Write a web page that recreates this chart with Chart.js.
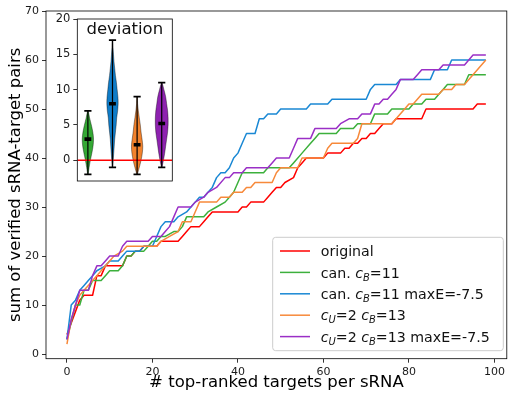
<!DOCTYPE html>
<html>
<head>
<meta charset="utf-8">
<script src="https://cdn.jsdelivr.net/npm/chart.js@4.4.1/dist/chart.umd.min.js"></script>
<style>
  html, body { margin: 0; padding: 0; background: #fff; }
  #wrap { position: relative; width: 508px; height: 394px; }
  #main { position: absolute; left: 0; top: 0; }
  #inset { position: absolute; left: 48px; top: 12px; }
</style>
</head>
<body>
<div id="wrap">
  <canvas id="main" width="508" height="394"></canvas>
  <canvas id="inset" width="126" height="172"></canvas>
</div>
<script>
// --- data: [targets per sRNA, verified pairs] at the corners of each curve
const origPts = [[0,4],[3,11],[4,12],[6,12],[7,16],[8,16],[9,18],[13,18],[14,20],[15,20],[16,21],[17,21],[18,22],[21,22],[22,23],[26,23],[27,24],[28,25],[29,26],[31,26],[32,27],[33,28],[34,29],[40,29],[41,30],[42,30],[43,31],[46,31],[47,32],[48,33],[49,34],[50,34],[51,35],[53,36],[54,38],[55,39],[56,40],[60,40],[61,41],[64,41],[65,42],[66,42],[67,43],[68,43],[69,44],[70,44],[71,45],[72,45],[73,46],[74,47],[76,47],[77,48],[83,48],[84,50],[95,50],[96,51],[98,51]];
const canPts = [[0,3],[2,10],[3,10],[4,13],[5,13],[6,15],[8,15],[9,16],[10,17],[12,17],[13,18],[14,20],[15,20],[16,21],[18,21],[19,22],[20,23],[21,23],[22,24],[23,24],[25,25],[26,25],[27,26],[28,28],[32,28],[33,29],[35,30],[37,31],[38,32],[39,33],[40,35],[41,37],[46,37],[47,38],[52,38],[53,39],[55,41],[57,43],[58,44],[59,45],[63,45],[64,46],[67,46],[68,47],[71,47],[72,49],[75,49],[76,50],[80,50],[81,51],[83,51],[84,52],[86,52],[87,53],[88,54],[89,55],[93,55],[94,57],[98,57]];
const canMaxEPts = [[0,3],[1,10],[2,11],[3,13],[4,14],[5,15],[6,16],[7,17],[9,18],[10,19],[12,19],[13,20],[14,21],[17,21],[18,22],[20,22],[21,24],[22,26],[23,27],[25,27],[26,28],[28,29],[29,30],[30,31],[31,32],[32,32],[33,33],[34,34],[35,36],[36,37],[37,37],[38,38],[39,40],[40,41],[41,43],[42,45],[44,45],[45,48],[46,48],[47,49],[49,49],[50,50],[56,50],[57,51],[61,51],[62,52],[70,52],[71,54],[72,55],[77,55],[78,56],[85,56],[86,58],[89,58],[90,60],[98,60]];
const cuPts = [[0,2],[1,7],[2,10],[3,12],[4,13],[5,14],[6,15],[7,16],[8,17],[9,18],[10,19],[11,20],[13,21],[14,22],[21,22],[22,23],[24,24],[26,25],[27,27],[29,27],[30,29],[31,31],[35,31],[36,32],[38,32],[39,33],[41,33],[42,34],[43,34],[44,35],[48,35],[49,37],[50,38],[54,38],[55,40],[60,40],[61,42],[62,43],[67,43],[68,44],[69,47],[76,47],[77,48],[79,50],[80,51],[81,51],[83,53],[87,53],[88,54],[90,54],[91,55],[93,55],[98,60]];
const cuMaxEPts = [[0,3],[1,7],[2,10],[3,13],[5,13],[6,16],[7,18],[8,18],[9,19],[10,20],[12,20],[13,22],[14,23],[19,23],[20,24],[22,24],[23,25],[24,26],[25,28],[26,30],[29,30],[30,31],[32,32],[33,33],[35,34],[37,36],[38,36],[39,37],[41,37],[42,38],[47,38],[48,39],[49,40],[52,40],[53,42],[54,44],[57,44],[58,46],[63,46],[64,47],[66,48],[68,48],[69,49],[71,49],[72,51],[73,51],[74,52],[75,52],[76,53],[77,54],[78,56],[81,56],[82,57],[83,58],[87,58],[88,59],[93,59],[94,60],[95,61],[98,61]];

const seriesLabels = ['original', 'can. c_B=11', 'can. c_B=11 maxE=-7.5', 'c_U=2 c_B=13', 'c_U=2 c_B=13 maxE=-7.5'];
const seriesColors = ['#ff0000', '#3cb03c', '#1a88d4', '#f7893a', '#9a2fc6'];
const seriesPoints = [origPts, canPts, canMaxEPts, cuPts, cuMaxEPts];
const xTicks = [0, 20, 40, 60, 80, 100];
const yTicks = [0, 10, 20, 30, 40, 50, 60, 70];

// inset: deviation violins (order: can, can maxE, cU, cU maxE)
const violinColors = ['#34a834', '#0f7cc8', '#f2822c', '#8e22b0'];
const violinMin = [-2, -1, -2, -1];
const violinMax = [7, 17, 9, 11];
const violinMark = [3, 8, 2.2, 5.2];
// [deviation, half width] profiles
const violinShapes = [
  [[-2,0.01],[-1,0.05],[0,0.1],[1,0.16],[2,0.21],[3,0.23],[4,0.2],[5,0.14],[6,0.07],[7,0.01]],
  [[-1,0.01],[0,0.03],[1,0.05],[2,0.07],[3,0.09],[4,0.12],[5,0.15],[6,0.17],[7,0.21],[8,0.23],[9,0.22],[10,0.19],[11,0.16],[12,0.12],[13,0.09],[14,0.06],[15,0.04],[16,0.02],[17,0.01]],
  [[-2,0.01],[-1,0.09],[0,0.16],[1,0.21],[2,0.23],[3,0.2],[4,0.16],[5,0.13],[6,0.09],[7,0.05],[8,0.02],[9,0.01]],
  [[-1,0.01],[0,0.07],[1,0.12],[2,0.16],[3,0.2],[4,0.24],[5,0.26],[6,0.26],[7,0.24],[8,0.2],[9,0.16],[10,0.09],[11,0.01]]
];
const insetTicks = [0, 5, 10, 15, 20];

Chart.defaults.font.family = '"DejaVu Sans", sans-serif';
Chart.defaults.color = '#1a1a1a';

// text with c_X written as italic c and subscript X
function drawRich(ctx, text, x, y, size) {
  text.split(/(c_[A-Z])/).forEach(p => {
    if (!p) return;
    if (/^c_[A-Z]$/.test(p)) {
      ctx.font = `italic ${size}px "DejaVu Sans"`;
      ctx.fillText('c', x, y);
      x += ctx.measureText('c').width;
      ctx.font = `italic ${size * 0.7}px "DejaVu Sans"`;
      ctx.fillText(p[2], x, y + size * 0.22);
      x += ctx.measureText(p[2]).width;
    } else {
      ctx.font = `${size}px "DejaVu Sans"`;
      ctx.fillText(p, x, y);
      x += ctx.measureText(p).width;
    }
  });
}

const mainFurniture = {
  id: 'mainFurniture',
  afterDraw(chart) {
    const { ctx, chartArea: ca } = chart;
    ctx.save();
    ctx.strokeStyle = '#000';
    ctx.lineWidth = 0.8;
    ctx.strokeRect(ca.left, ca.top, ca.right - ca.left, ca.bottom - ca.top);

    // legend, lower right
    const boxW = 230.6, boxH = 113.4, rowH = 21.4, fs = 14.2;
    const bx = ca.right - 3.5 - boxW, by = ca.bottom - 8 - boxH;
    ctx.beginPath();
    ctx.roundRect(bx, by, boxW, boxH, 3);
    ctx.fillStyle = 'rgba(255,255,255,0.8)';
    ctx.fill();
    ctx.strokeStyle = '#cccccc';
    ctx.lineWidth = 1;
    ctx.stroke();
    ctx.textBaseline = 'alphabetic';
    chart.data.datasets.forEach((ds, i) => {
      const cy = by + 13.7 + i * rowH;
      ctx.strokeStyle = ds.borderColor;
      ctx.lineWidth = 1.5;
      ctx.beginPath();
      ctx.moveTo(bx + 7.3, cy);
      ctx.lineTo(bx + 37.3, cy);
      ctx.stroke();
      ctx.fillStyle = '#111';
      drawRich(ctx, ds.label, bx + 48, cy + fs * 0.36, fs);
    });
    ctx.restore();
  }
};

new Chart(document.getElementById('main'), {
  type: 'line',
  data: {
    datasets: seriesPoints.map((pts, i) => ({
      label: seriesLabels[i],
      data: pts.map(([x, y]) => ({ x, y })),
      borderColor: seriesColors[i],
      backgroundColor: seriesColors[i],
      borderWidth: 1.5,
      borderJoinStyle: 'round',
      pointRadius: 0,
      tension: 0,
      fill: false,
      order: seriesPoints.length - i
    }))
  },
  options: {
    responsive: false,
    animation: false,
    devicePixelRatio: 1,
    layout: { autoPadding: false, padding: { top: 11, right: 1.2, left: 0, bottom: 0 } },
    plugins: { legend: { display: false }, tooltip: { enabled: false } },
    scales: {
      x: {
        type: 'linear', min: -4.9, max: 102.9,
        afterBuildTicks: s => { s.ticks = xTicks.map(v => ({ value: v })); },
        afterFit: s => { s.height = 35.3; },
        ticks: { font: { size: 11 }, color: '#1a1a1a', padding: 3, maxRotation: 0, autoSkip: false },
        grid: { drawOnChartArea: false, tickLength: 4, tickColor: '#000', lineWidth: 0.8 },
        border: { display: false },
        title: { display: true, text: '# top-ranked targets per sRNA', font: { size: 16.5 }, color: '#000', padding: { top: 0, bottom: 1 } }
      },
      y: {
        type: 'linear', min: -0.95, max: 70,
        afterBuildTicks: s => { s.ticks = yTicks.map(v => ({ value: v })); },
        afterFit: s => { s.width = 46; },
        ticks: { font: { size: 11 }, color: '#1a1a1a', padding: 3 },
        grid: { drawOnChartArea: false, tickLength: 4, tickColor: '#000', lineWidth: 0.8 },
        border: { display: false },
        title: { display: true, text: 'sum of verified sRNA-target pairs', font: { size: 16.5 }, color: '#000', padding: { top: 5.5, bottom: 0 } }
      }
    }
  },
  plugins: [mainFurniture]
});

const insetFurniture = {
  id: 'insetFurniture',
  beforeDraw(chart) {
    const { ctx, chartArea: ca } = chart;
    ctx.save();
    ctx.fillStyle = '#fff';
    ctx.fillRect(ca.left, ca.top, ca.right - ca.left, ca.bottom - ca.top);
    ctx.restore();
  },
  afterDraw(chart) {
    const { ctx, chartArea: ca } = chart;
    ctx.save();
    ctx.strokeStyle = '#000';
    ctx.lineWidth = 0.8;
    ctx.strokeRect(ca.left, ca.top, ca.right - ca.left, ca.bottom - ca.top);
    ctx.fillStyle = '#111';
    ctx.font = '16.5px "DejaVu Sans"';
    ctx.textAlign = 'center';
    ctx.textBaseline = 'middle';
    ctx.fillText('deviation', (ca.left + ca.right) / 2, ca.top + 10.7);
    ctx.restore();
  }
};

const insetSets = [];
violinShapes.forEach((shape, i) => {
  const pos = i + 1;
  const right = shape.map(([v, w]) => ({ x: pos + w, y: v }));
  const left = shape.slice().reverse().map(([v, w]) => ({ x: pos - w, y: v }));
  insetSets.push({
    data: right.concat(left),
    borderColor: 'rgba(0,0,0,0.55)', borderWidth: 0.7,
    backgroundColor: violinColors[i], fill: 'shape',
    pointRadius: 0, tension: 0.35, order: 5
  });
  insetSets.push({
    data: [{ x: pos, y: violinMin[i] }, { x: pos, y: violinMax[i] }],
    borderColor: '#000', borderWidth: 1.2, pointRadius: 0, fill: false, order: 2
  });
  insetSets.push({
    data: [{ x: pos, y: violinMin[i] }, { x: pos, y: violinMax[i] }],
    showLine: false, pointStyle: 'line', pointRadius: 3.6,
    pointBorderWidth: 1.8, pointBorderColor: '#000', order: 1
  });
  insetSets.push({
    data: [{ x: pos, y: violinMark[i] }],
    showLine: false, pointStyle: 'line', pointRadius: 3.4,
    pointBorderWidth: 3.6, pointBorderColor: '#000', order: 0
  });
});
insetSets.push({
  data: [{ x: 0.57, y: 0 }, { x: 4.43, y: 0 }],
  borderColor: '#ff0000', borderWidth: 1.5, pointRadius: 0, fill: false, order: 3
});

new Chart(document.getElementById('inset'), {
  type: 'line',
  data: { datasets: insetSets },
  options: {
    responsive: false,
    animation: false,
    devicePixelRatio: 1,
    layout: { autoPadding: false, padding: { top: 7, right: 1.7, bottom: 3, left: 0 } },
    plugins: { legend: { display: false }, tooltip: { enabled: false } },
    scales: {
      x: {
        type: 'linear', min: 0.57, max: 4.43,
        ticks: { display: false },
        grid: { display: false, drawTicks: false },
        border: { display: false },
        afterFit: s => { s.height = 0; }
      },
      y: {
        type: 'linear', min: -2.93, max: 20,
        afterBuildTicks: s => { s.ticks = insetTicks.map(v => ({ value: v })); },
        afterFit: s => { s.width = 29.3; s.paddingTop = 0; s.paddingBottom = 0; },
        ticks: { font: { size: 11.5 }, color: '#1a1a1a', padding: 3 },
        grid: { drawOnChartArea: false, tickLength: 4, tickColor: '#000', lineWidth: 0.8 },
        border: { display: false }
      }
    }
  },
  plugins: [insetFurniture]
});
</script>
</body>
</html>
